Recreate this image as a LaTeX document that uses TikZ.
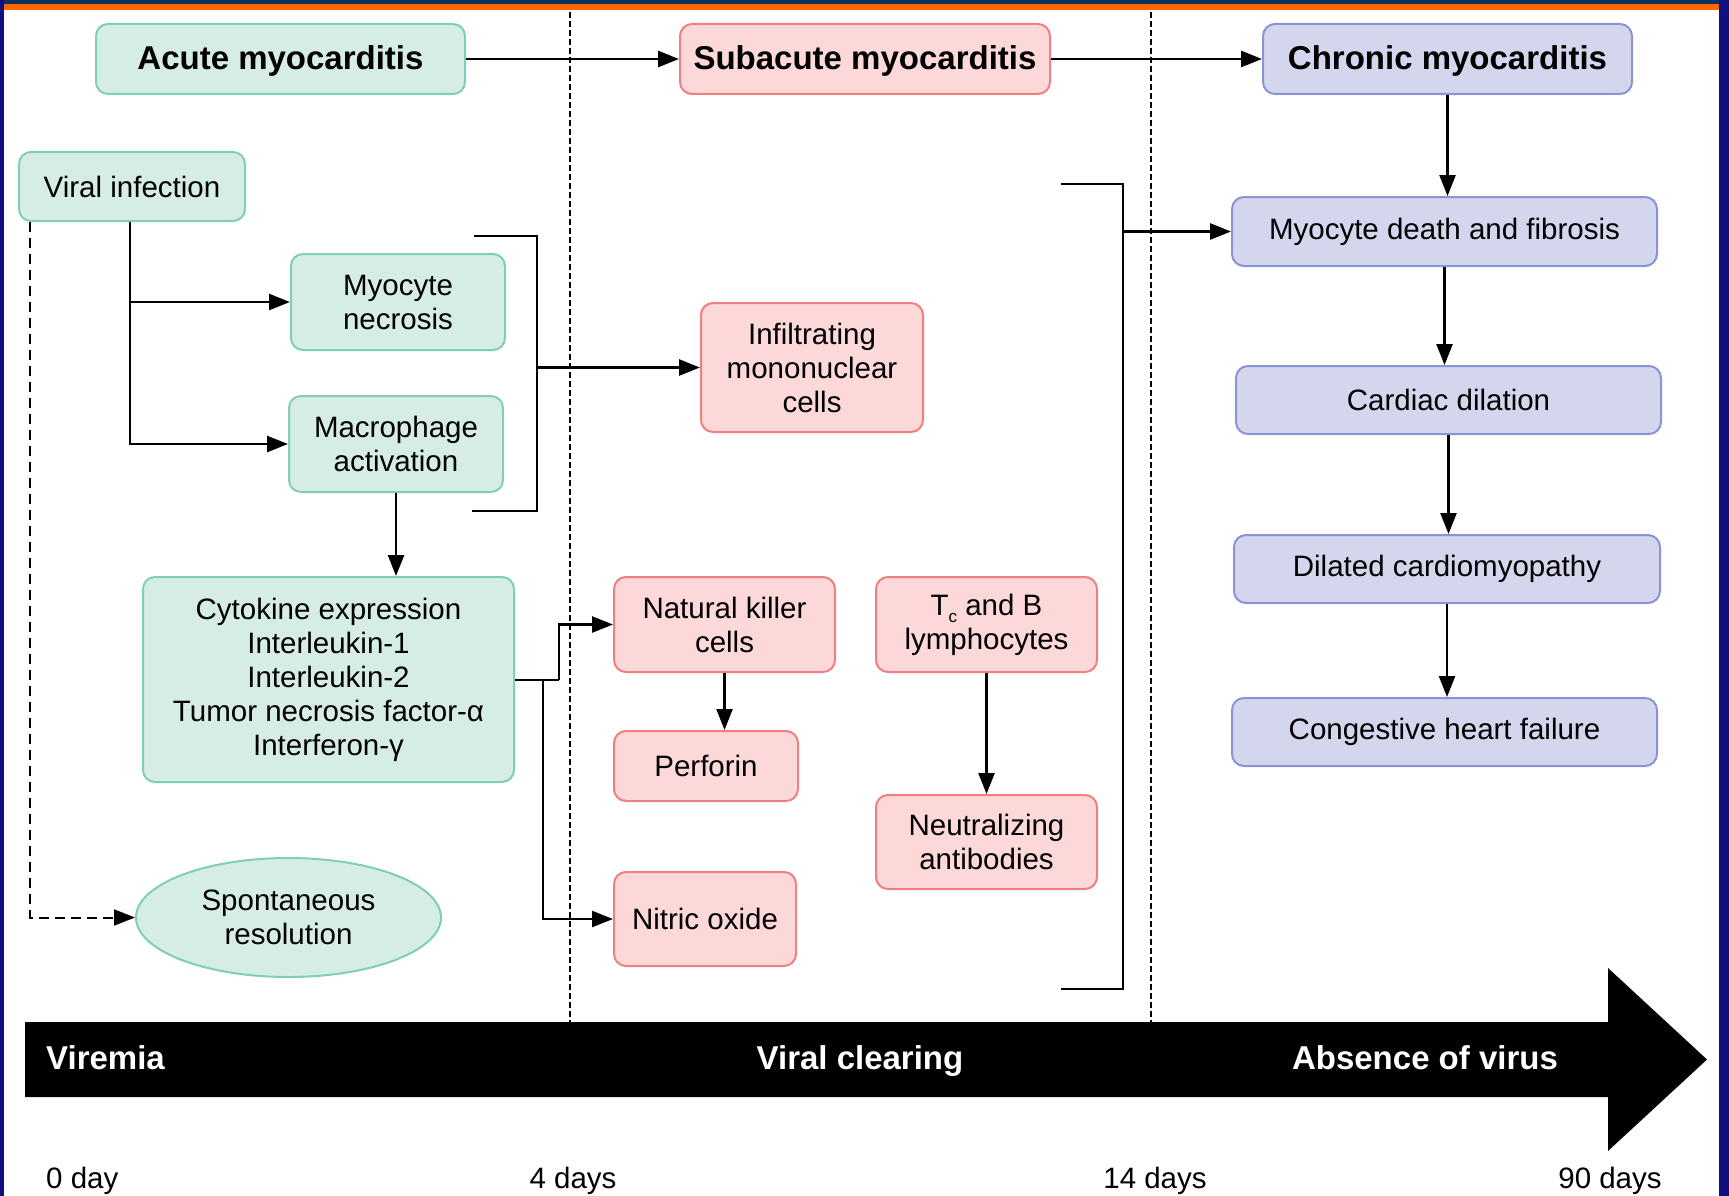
\documentclass[tikz,border=0pt]{standalone}
\usepackage{fontspec}
\setmainfont{Liberation Sans}
\usetikzlibrary{arrows.meta,shapes.geometric}
\definecolor{gfill}{RGB}{214,237,230}
\definecolor{gline}{RGB}{128,206,186}
\definecolor{pfill}{RGB}{252,216,216}
\definecolor{pline}{RGB}{240,128,128}
\definecolor{bfill}{RGB}{211,214,236}
\definecolor{bline}{RGB}{138,148,212}
\definecolor{navy}{RGB}{12,48,96}
\definecolor{sideblue}{RGB}{16,16,130}
\definecolor{orangebar}{RGB}{255,102,0}
\begin{document}
\begin{tikzpicture}[x=1pt,y=-1pt,
  box/.style={draw, line width=2pt, rounded corners=12pt, align=center, inner sep=0pt,
    font=\fontsize{29.5}{34}\selectfont},
  gbox/.style={box, fill=gfill, draw=gline},
  pbox/.style={box, fill=pfill, draw=pline},
  bbox/.style={box, fill=bfill, draw=bline},
  titlefont/.style={font=\fontsize{33}{38}\selectfont\bfseries, text height=24pt, text depth=2pt},
  conn/.style={line width=2.5pt},
  arr/.style={conn, -{Triangle[length=21pt,width=16pt]}},
  darr/.style={line width=2pt, dash pattern=on 10pt off 6pt, -{Triangle[length=21pt,width=16pt]}},
  vdash/.style={line width=1.6pt, dash pattern=on 6pt off 3pt},
  bartext/.style={text=white, font=\fontsize{33}{38}\selectfont\bfseries, inner sep=0pt},
  daytext/.style={font=\fontsize{29.5}{34}\selectfont, inner sep=0pt}
]
\useasboundingbox (0,0) rectangle (1729,1196);
\fill[white] (0,0) rectangle (1729,1196);
% frame
\fill[navy] (0,0) rectangle (1729,4);
\fill[orangebar] (0,4) rectangle (1729,10);
\fill[sideblue] (0,0) rectangle (4,1196);
\fill[sideblue] (1719,0) rectangle (1729,1196);

% dashed separators
\draw[vdash] (570,12) -- (570,1022);
\draw[vdash] (1151,12) -- (1151,1022);

% stage boxes
\node[gbox, titlefont, minimum width=369pt, minimum height=70pt] (am) at (280.5,59) {Acute myocarditis};
\node[pbox, titlefont, minimum width=370pt, minimum height=70pt] (sm) at (865,59) {Subacute myocarditis};
\node[bbox, titlefont, minimum width=369pt, minimum height=70pt] (cm) at (1447.5,59) {Chronic myocarditis};

% acute column
\node[gbox, minimum width=226pt, minimum height=69pt] (vi) at (132,186.5) {Viral infection};
\node[gbox, minimum width=214pt, minimum height=96pt] (mn) at (398,302) {Myocyte\\necrosis};
\node[gbox, minimum width=214pt, minimum height=96pt] (ma) at (396,444) {Macrophage\\activation};
\node[gbox, minimum width=371pt, minimum height=205pt] (ck) at (328.5,679.5)
  {Cytokine expression\\Interleukin-1\\Interleukin-2\\Tumor necrosis factor-α\\Interferon-γ};
\node[ellipse, draw=gline, fill=gfill, line width=2pt, inner sep=0pt, align=center,
  font=\fontsize{29.5}{34}\selectfont, minimum width=305pt, minimum height=119pt] (sr) at (288.5,917.5)
  {Spontaneous\\resolution};

% subacute column
\node[pbox, minimum width=222pt, minimum height=129pt] (im) at (812,367.5) {Infiltrating\\mononuclear\\cells};
\node[pbox, minimum width=221pt, minimum height=95pt] (nk) at (724.5,624.5) {Natural killer\\cells};
\node[pbox, minimum width=184pt, minimum height=70pt] (pf) at (706,766) {Perforin};
\node[pbox, minimum width=182pt, minimum height=94pt] (no) at (705,919) {Nitric oxide};
\node[pbox, minimum width=221pt, minimum height=95pt] (tc) at (986.5,624.5)
  {T\raisebox{-7pt}{\fontsize{17}{17}\selectfont c} and B\\lymphocytes};
\node[pbox, minimum width=221pt, minimum height=94pt] (na) at (986.5,842) {Neutralizing\\antibodies};

% chronic column
\node[bbox, minimum width=425pt, minimum height=69pt] (md) at (1444.5,231.5) {Myocyte death and fibrosis};
\node[bbox, minimum width=425pt, minimum height=68pt] (cd) at (1448.5,400) {Cardiac dilation};
\node[bbox, minimum width=426pt, minimum height=68pt] (dc) at (1447,569) {Dilated cardiomyopathy};
\node[bbox, minimum width=425pt, minimum height=68pt] (hf) at (1444.5,732) {Congestive heart failure};

% stage arrows
\draw[arr] (am.east) -- (sm.west);
\draw[arr] (sm.east) -- (cm.west);
\draw[arr] (cm.south) -- (cm.south |- md.north);
\draw[arr] (md.south) -- (md.south |- cd.north);
\draw[arr] (cd.south) -- (cd.south |- dc.north);
\draw[arr] (dc.south) -- (dc.south |- hf.north);

% viral infection branches
\coordinate (vtrunk) at (130,443);
\draw[arr] (vi.south -| vtrunk) |- (ma.west);
\draw[arr] (vtrunk |- mn.west) -- (mn.west);
\coordinate (dx) at (30,0);
\draw[darr] (vi.south -| dx) |- (sr.west);

\draw[arr] (ma.south) -- (ma.south |- ck.north);

% bracket 1
\coordinate (b1a) at (474,236);
\coordinate (b1t) at (537,236);
\coordinate (b1b) at (537,511);
\coordinate (b1c) at (472,511);
\draw[conn] (b1a) -- (b1t) -- (b1b) -- (b1c);
\draw[arr] (b1t |- im.west) -- (im.west);

% bracket 2
\coordinate (b2a) at (1061,184);
\coordinate (b2t) at (1123,184);
\coordinate (b2b) at (1123,989);
\coordinate (b2c) at (1061,989);
\draw[conn] (b2a) -- (b2t) -- (b2b) -- (b2c);
\draw[arr] (b2t |- md.west) -- (md.west);

% cytokine split
\coordinate (cs1) at (559,680);
\coordinate (cs2) at (543,680);
\draw[conn] (ck.east |- cs1) -- (cs1);
\draw[arr] (cs1) |- (nk.west);
\draw[arr] (cs2) |- (no.west);

\draw[arr] (nk.south) -- (nk.south |- pf.north);
\draw[arr] (tc.south) -- (na.north);

% time arrow
\fill[black] (25,1022) -- (1608,1022) -- (1608,968) -- (1707,1059.5) -- (1608,1151) -- (1608,1097) -- (25,1097) -- cycle;
\node[bartext, anchor=base west] (tv) at (46,1069) {Viremia};
\node[bartext, anchor=base] (tcl) at (860,1069) {Viral clearing};
\node[bartext, anchor=base] (tab) at (1425,1069) {Absence of virus};

\node[daytext, anchor=base west] (d0) at (46,1188) {0 day};
\node[daytext, anchor=base] (d4) at (573,1188) {4 days};
\node[daytext, anchor=base] (d14) at (1155,1188) {14 days};
\node[daytext, anchor=base] (d90) at (1610,1188) {90 days};
\end{tikzpicture}
\end{document}
